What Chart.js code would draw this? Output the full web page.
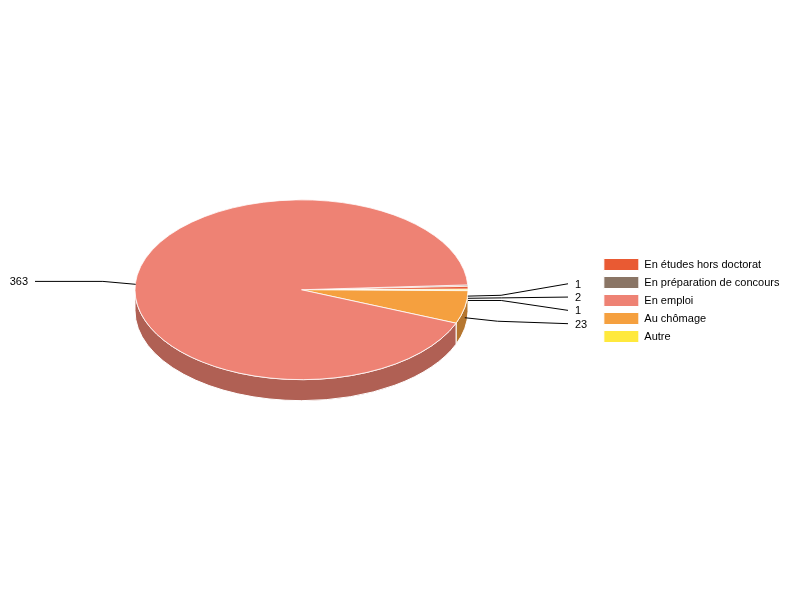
<!DOCTYPE html>
<html>
<head>
<meta charset="utf-8">
<style>
  html, body { margin: 0; background: #fff; }
  canvas { display: block; }
</style>
<script src="https://cdn.jsdelivr.net/npm/chart.js@4"></script>
</head>
<body>
<canvas id="chart" width="800" height="600"></canvas>
<script>
// slices in clockwise drawing order
const categories = ['En préparation de concours', 'En études hors doctorat', 'Autre', 'Au chômage', 'En emploi'];
const values = [1, 2, 1, 23, 363];
const colors = ['#8A7565', '#E95A33', '#FFE93D', '#F5A03F', '#EE8274'];
const wallColors = ['#66564B', '#AC4226', '#BDAC2D', '#B5762F', '#B06054'];
const legendOrder = [1, 0, 4, 3, 2];

const pieX = 301.5;
const pieY = 289.75;
const pieRadius = 166.5;
const squash = 0.54;
const depth = 21;

const pie3d = {
  id: 'pie3d',
  beforeDatasetsDraw(chart) {
    const ctx = chart.ctx;
    const arcs = chart.getDatasetMeta(0).data;
    const ry = pieRadius * squash;
    ctx.save();
    arcs.forEach(function (arc, i) {
      const from = Math.max(arc.startAngle, 0);
      const to = Math.min(arc.endAngle, Math.PI);
      if (to <= from) return;
      ctx.beginPath();
      ctx.ellipse(pieX, pieY, pieRadius, ry, 0, from, to);
      ctx.ellipse(pieX, pieY + depth, pieRadius, ry, 0, to, from, true);
      ctx.closePath();
      ctx.fillStyle = wallColors[i];
      ctx.fill();
      ctx.strokeStyle = '#fff';
      ctx.lineWidth = 1;
      ctx.stroke();
    });
    // top face is drawn by chart.js, squashed into an ellipse
    const first = arcs[0];
    ctx.translate(pieX, pieY);
    ctx.scale(1, squash);
    ctx.translate(-first.x, -first.y);
  },
  afterDatasetsDraw(chart) {
    const ctx = chart.ctx;
    ctx.restore();

    const ticks = chart.getDatasetMeta(0).data.map(function (arc, i) {
      const mid = (arc.startAngle + arc.endAngle) / 2;
      const cos = Math.cos(mid);
      const sin = Math.sin(mid) * squash;
      // the left tick sits a little further out than the plain angle gives
      const dx = cos > 0 ? 0 : -1.5;
      const dy = cos > 0 ? 0 : -1.3;
      return {
        i: i,
        right: cos > 0,
        x0: pieX + dx + pieRadius * cos,
        y0: pieY + dy + depth / 2 + pieRadius * sin,
        x1: pieX + dx + pieRadius * 1.2 * cos,
        y1: pieY + dy + depth / 2 + pieRadius * 1.2 * sin
      };
    });

    // spread the labels of each side around their mean height
    [true, false].forEach(function (side) {
      const group = ticks.filter(t => t.right === side);
      const mean = group.reduce((sum, t) => sum + t.y1, 0) / group.length;
      group.forEach(function (t, n) {
        t.y2 = mean + (n - (group.length - 1) / 2) * 13.3;
      });
    });

    ctx.save();
    ctx.strokeStyle = '#000';
    ctx.lineWidth = 1;
    ctx.fillStyle = '#000';
    ctx.font = '11px "Liberation Sans", Arial, sans-serif';
    ctx.textBaseline = 'middle';
    ticks.forEach(function (t) {
      const x2 = t.right ? 568 : 35;
      ctx.beginPath();
      ctx.moveTo(t.x0, t.y0);
      ctx.lineTo(t.x1, t.y1);
      ctx.lineTo(x2, t.y2);
      ctx.stroke();
      ctx.textAlign = t.right ? 'left' : 'right';
      ctx.fillText(String(values[t.i]), t.right ? 575 : 28, t.y2 + 1);
    });
    ctx.restore();
  }
};

new Chart(document.getElementById('chart'), {
  type: 'pie',
  plugins: [pie3d],
  data: {
    labels: categories,
    datasets: [{
      data: values,
      backgroundColor: colors,
      borderColor: '#fff',
      borderWidth: 1,
      radius: pieRadius,
      rotation: 86.9,
      hoverOffset: 0,
      clip: false
    }]
  },
  options: {
    responsive: false,
    animation: false,
    layout: { padding: { right: 10.5, top: 1 } },
    plugins: {
      tooltip: { enabled: false },
      legend: {
        position: 'right',
        labels: {
          boxWidth: 35,
          boxHeight: 12,
          padding: 6,
          color: '#000',
          font: { family: '"Liberation Sans", Arial, sans-serif', size: 11, lineHeight: '13px' },
          sort: (a, b) => legendOrder.indexOf(a.index) - legendOrder.indexOf(b.index)
        }
      }
    }
  }
});
</script>
</body>
</html>
